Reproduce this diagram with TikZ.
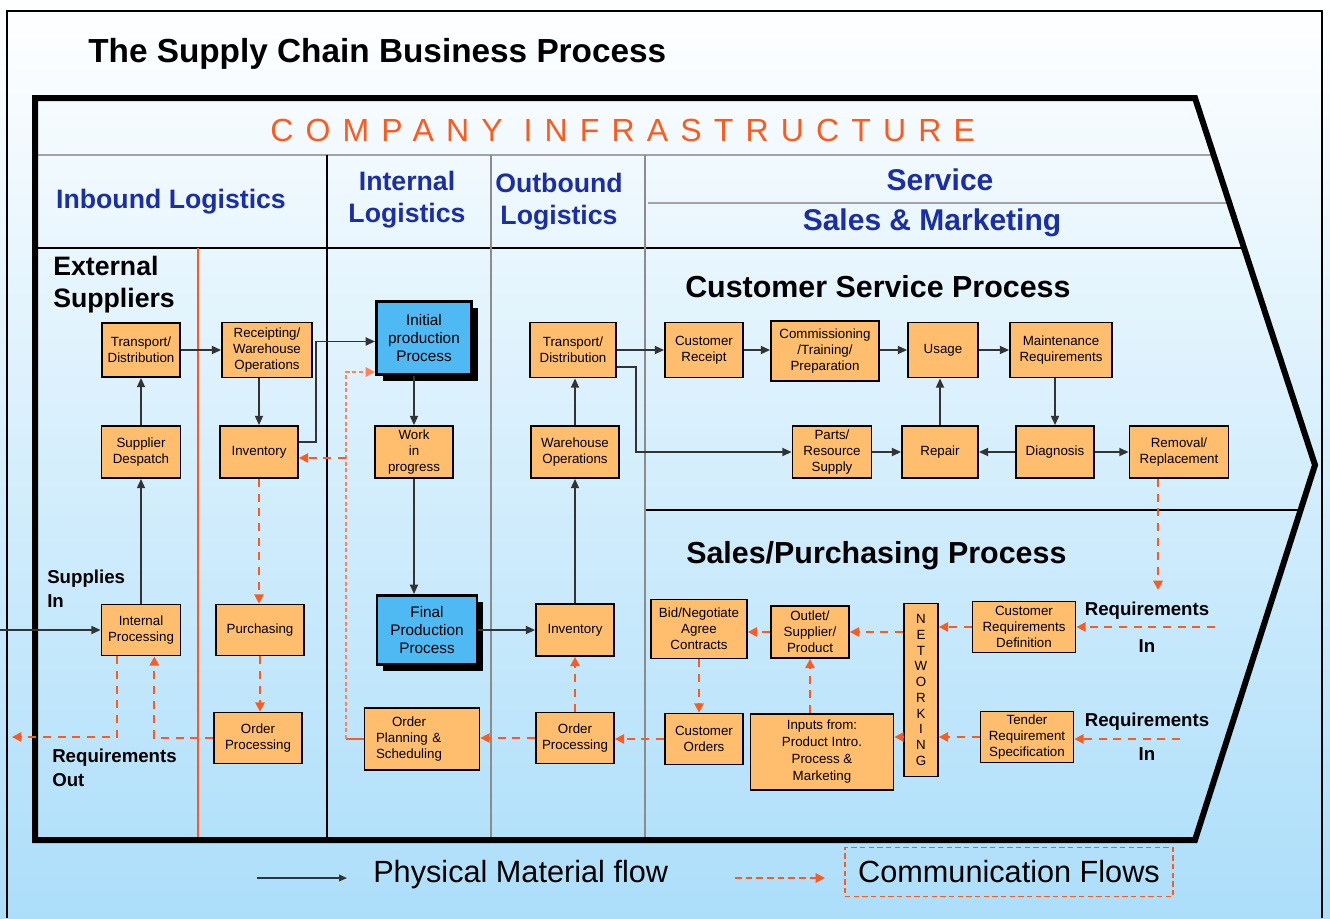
\documentclass[tikz,border=0pt]{standalone}
\usepackage{fontspec}
\setmainfont{Liberation Sans}
\newfontfamily\spacedfont[LetterSpace=38]{Liberation Sans}
\usetikzlibrary{arrows.meta,shadows}
\definecolor{boxorange}{HTML}{FFBE6E}
\definecolor{prodblue}{HTML}{4FB9F4}
\definecolor{commred}{HTML}{FF5A1E}
\definecolor{hdblue}{HTML}{1A2EA6}
\definecolor{bgblue}{HTML}{ACDEFA}
\definecolor{rulegray}{HTML}{8C8C8C}
\tikzset{
  proc/.style={draw, fill=boxorange, line width=1.3pt, align=center, inner sep=1pt,
    font=\fontsize{10}{12}\selectfont},
  prod/.style={draw, fill=prodblue, line width=2.2pt, align=center, inner sep=1pt,
    font=\fontsize{11.5}{13.5}\selectfont,
    drop shadow={shadow xshift=4.5pt, shadow yshift=-4.5pt, fill=black, opacity=1}},
  wh/.style 2 args={minimum width=#1*0.75pt, minimum height=#2*0.75pt},
  flow/.style={draw=black!80, line width=1.3pt, -{Triangle[length=7pt,width=6pt]}},
  comm/.style={draw=commred, line width=1.5pt, dash pattern=on 6pt off 5pt,
    -{Triangle[length=7pt,width=7pt]}},
  lbl/.style={inner sep=0pt, font=\bfseries\fontsize{14}{18}\selectfont, align=left},
  lane/.style={inner sep=0pt, align=center, text=hdblue, font=\bfseries\fontsize{20}{24}\selectfont},
  proctitle/.style={inner sep=0pt, anchor=west, font=\bfseries\fontsize{22.8}{26}\selectfont}
}
\begin{document}
\begin{tikzpicture}[x=0.75pt,y=-0.75pt,line join=miter]
\useasboundingbox (0,0) rectangle (1330,918);
\shade[top color=white, bottom color=bgblue] (0,0) rectangle (1330,918);
\draw[line width=1.2pt] (7,918) -- (7,11) -- (1322,11) -- (1322,918);

% lanes and headers
\draw[rulegray!80, line width=2pt] (35,155) -- (1213,155);
\draw[rulegray!80, line width=2pt] (648,203) -- (1229,203);
\draw[line width=1.8pt] (35,248) -- (1244,248);
\draw[line width=1.5pt] (645,510) -- (1301,510);
\draw[line width=1.2pt] (327,155) -- (327,840);
\draw[rulegray, line width=1.5pt] (491,155) -- (491,840);
\draw[rulegray, line width=1.5pt] (645,155) -- (645,840);
\draw[commred, line width=1.5pt] (198,248) -- (198,840);
\draw[line width=4.5pt] (35,98) -- (1195,98) -- (1315,465) -- (1195,840) -- (35,840) -- cycle;

\node[anchor=west, inner sep=0pt, font=\bfseries\fontsize{25}{30}\selectfont] (title) at (88,54) {The Supply Chain Business Process};
\node[anchor=west, inner sep=0pt, text=commred, font=\spacedfont\fontsize{24}{28}\selectfont] (infra) at (270,130) {COMPANY INFRASTRUCTURE};
\node[lane] (inbound) at (171,202) {Inbound Logistics};
\node[lane] (internal) at (407,200) {Internal\\Logistics};
\node[lane] (outbound) at (559,202) {Outbound\\Logistics};
\node[lane, font=\bfseries\fontsize{22.5}{26}\selectfont] (service) at (940,180) {Service};
\node[lane, font=\bfseries\fontsize{22.5}{26}\selectfont] (sales) at (932,223) {Sales \& Marketing};
\node[anchor=west, inner sep=0pt, align=left, font=\bfseries\fontsize{20}{24}\selectfont] (external) at (53,285) {External\\Suppliers};
\node[proctitle] (cusproc) at (685,287) {Customer Service Process};
\node[proctitle] (salproc) at (686,556) {Sales/Purchasing Process};
\node[lbl, anchor=west] (suppliesin) at (47,589) {Supplies\\In};
\node[lbl, anchor=west] (reqoutlbl) at (52,768) {Requirements\\Out};
\node[lbl, align=center, font=\bfseries\fontsize{14}{27.75}\selectfont] (reqinAlbl) at (1147,627) {Requirements\\In};
\node[lbl, align=center, font=\bfseries\fontsize{14}{25.5}\selectfont] (reqinBlbl) at (1147,737) {Requirements\\In};

% inbound logistics
\node[proc, wh={78}{54}] (tdin) at (141,350) {Transport/\\Distribution};
\node[proc, wh={79}{52}] (despatch) at (141,452) {Supplier\\Despatch};
\node[proc, wh={79}{51}] (intproc) at (141,630) {Internal\\Processing};
\node[proc, wh={90}{55}] (receipt) at (267,350) {Receipting/\\Warehouse\\Operations};
\node[proc, wh={78}{52}] (invin) at (259,452) {Inventory};
\node[proc, wh={88}{51}] (purch) at (260,630) {Purchasing};
\node[proc, wh={88}{51}] (ordin) at (258,738) {Order\\Processing};

% internal logistics
\node[prod, wh={95}{73}] (initial) at (424,338) {Initial\\production\\Process};
\node[proc, wh={78}{52}] (wip) at (414,452) {Work\\in\\progress};
\node[prod, wh={100}{69}] (final) at (427,630) {Final\\Production\\Process};
\node[proc, wh={115}{62}, align=left, text width=69pt, inner xsep=8.5pt] (planning) at (422,739) {\hspace*{1.2em}Order\\Planning \&\\Scheduling};

% outbound logistics
\node[proc, wh={86}{55}] (tdout) at (573,350) {Transport/\\Distribution};
\node[proc, wh={88}{52}] (whouse) at (575,452) {Warehouse\\Operations};
\node[proc, wh={78}{52}] (invout) at (575,630) {Inventory};
\node[proc, wh={78}{51}] (ordout) at (575,738) {Order\\Processing};

% customer service
\node[proc, wh={78}{55}] (custrec) at (704,350) {Customer\\Receipt};
\node[proc, wh={108}{60}] (commis) at (825,351) {Commissioning\\/Training/\\Preparation};
\node[proc, wh={70}{55}] (usage) at (943,350) {Usage};
\node[proc, wh={102}{55}] (maint) at (1061,350) {Maintenance\\Requirements};
\node[proc, wh={79}{52}] (parts) at (832,452) {Parts/\\Resource\\Supply};
\node[proc, wh={76}{52}] (repair) at (940,452) {Repair};
\node[proc, wh={78}{52}] (diag) at (1055,452) {Diagnosis};
\node[proc, wh={99}{52}] (removal) at (1179,452) {Removal/\\Replacement};

% sales and purchasing
\node[proc, wh={96}{59}] (bid) at (699,629) {Bid/Negotiate\\Agree\\Contracts};
\node[proc, wh={78}{52}] (outlet) at (810,632) {Outlet/\\Supplier/\\Product};
\node[proc, wh={78}{51}] (custord) at (704,739) {Customer\\Orders};
\node[proc, wh={143}{76}, font=\fontsize{10}{12.75}\selectfont] (inputs) at (822,752) {Inputs from:\\Product Intro.\\Process \&\\Marketing};
\node[proc, wh={34}{173}, inner sep=0pt, font=\fontsize{10}{11.8}\selectfont] (network) at (921,690) {N\\E\\T\\W\\O\\R\\K\\I\\N\\G};
\node[proc, wh={103}{51}] (custreq) at (1024,627) {Customer\\Requirements\\Definition};
\node[proc, wh={93}{51}] (tender) at (1027,737) {Tender\\Requirement\\Specification};

% physical flows
\coordinate (supin) at (0,630);
\draw[flow] (supin) -- (intproc.west);
\draw[flow] (intproc.north) -- (despatch.south);
\draw[flow] (despatch.north) -- (tdin.south);
\draw[flow] (tdin.east) -- (receipt.west |- tdin.east);
\draw[flow] (invin.north |- receipt.south) -- (invin.north);
\draw[flow] ([yshift=7.5pt]invin.east) -- ++(17,0) |- ([yshift=-2.6pt]initial.west);
\draw[flow] (wip.north |- initial.south) -- (wip.north);
\draw[flow] (wip.south) -- (wip.south |- final.north);
\draw[flow] (final.east) -- (invout.west);
\draw[flow] (invout.north) -- (invout.north |- whouse.south);
\draw[flow] (whouse.north) -- (whouse.north |- tdout.south);
\draw[flow] (tdout.east) -- (custrec.west);
\draw[flow] ([yshift=-12.75pt]tdout.east) -- ++(19,0) |- (parts.west);
\draw[flow] (custrec.east) -- (commis.west |- custrec.east);
\draw[flow] (commis.east |- usage.west) -- (usage.west);
\draw[flow] (usage.east) -- (maint.west);
\draw[flow] (diag.north |- maint.south) -- (diag.north);
\draw[flow] (diag.west) -- (repair.east);
\draw[flow] (diag.east) -- (removal.west);
\draw[flow] (parts.east) -- (repair.west);
\draw[flow] (repair.north) -- (repair.north |- usage.south);

% communication flows
\coordinate (reqout) at (12,737);
\coordinate (opsturn) at (346,739);
\coordinate (opsfork) at (346,458);
\coordinate (reqinA) at (1215,627);
\coordinate (reqinB) at (1180,739);
\coordinate (rrend) at (1158,590);
\draw[comm] (invin.south) -- (invin.south |- purch.north);
\draw[comm] (purch.south) -- (purch.south |- ordin.north);
\draw[comm] (ordin.west) -| ([xshift=10pt]intproc.south);
\draw[comm] ([xshift=-18pt]intproc.south) |- (reqout);
\draw[commred, line width=1.5pt] (planning.west) -- (opsturn);
\draw[comm, draw=commred!75, dash pattern=on 3pt off 2pt] (opsturn) |- ([yshift=3pt]initial.south west);
\draw[comm] (opsfork) -- (invin.east |- opsfork);
\draw[comm] (ordout.west) -- (planning.east |- ordout.west);
\draw[comm] (ordout.north) -- (invout.south);
\draw[comm] (custord.west) -- (ordout.east |- custord.west);
\draw[comm] (bid.south) -- (bid.south |- custord.north);
\draw[comm] (outlet.west) -- (bid.east |- outlet.west);
\draw[comm] (outlet.south |- inputs.north) -- (outlet.south);
\draw[comm] (network.west |- outlet.east) -- (outlet.east);
\draw[comm] (network.west |- tender.west) -- (inputs.east |- tender.west);
\draw[comm] (custreq.west) -- (network.east |- custreq.west);
\draw[comm] (tender.west) -- (network.east |- tender.west);
\draw[comm] (reqinA) -- (custreq.east |- reqinA);
\draw[comm] (reqinB) -- (tender.east |- reqinB);
\draw[comm] (rrend |- removal.south) -- (rrend);

% legend
\coordinate (legA) at (257,878);
\coordinate (legB) at (347,878);
\coordinate (legC) at (735,878);
\coordinate (legD) at (825,878);
\draw[flow, line width=1pt, -{Triangle[length=6pt,width=5pt]}] (legA) -- (legB);
\node[anchor=west, inner sep=0pt, font=\fontsize{23}{27}\selectfont] (physlbl) at (373,875) {Physical Material flow};
\draw[comm, dash pattern=on 5pt off 3pt] (legC) -- (legD);
\node[draw=commred, dash pattern=on 4pt off 2.5pt, line width=1.2pt, wh={328}{49}, font=\fontsize{23}{27}\selectfont] (commlbl) at (1009,872) {Communication Flows};
\end{tikzpicture}
\end{document}
